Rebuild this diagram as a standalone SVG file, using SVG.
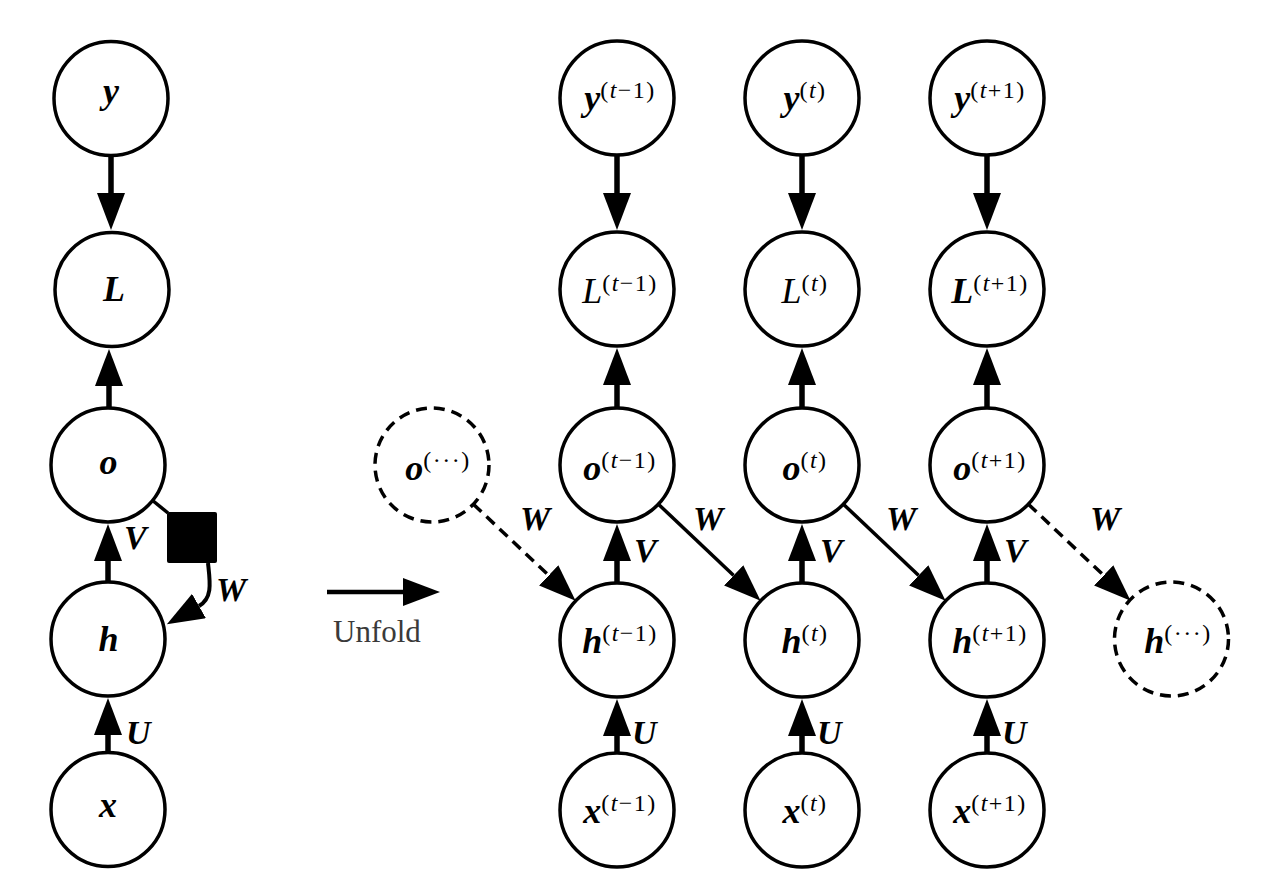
<svg xmlns="http://www.w3.org/2000/svg" width="1268" height="884" viewBox="0 0 1268 884">
<style>
.n circle{fill:#fff;stroke:#000;stroke-width:3.5}
.d circle{stroke-dasharray:11 7}
.m{font-family:"Liberation Serif",serif;font-size:36px;font-style:italic;font-weight:bold;fill:#000}
.r{font-weight:normal}
.s{font-size:24px;font-style:normal;font-weight:normal;letter-spacing:1.5px}
.t{font-style:italic}
.lab{font-family:"Liberation Serif",serif;font-size:34px;font-style:italic;font-weight:bold;fill:#000}
.a{stroke:#000;stroke-width:5.5;fill:none}
.th{stroke:#000;stroke-width:3.5;fill:none}
.ds{stroke-dasharray:11 7}
.unfold{font-family:"Liberation Serif",serif;font-size:31px;fill:#3a3a3a}
</style>
<defs>
<marker id="ah" viewBox="0 0 37 28" refX="0" refY="14" markerWidth="37" markerHeight="28" markerUnits="userSpaceOnUse" orient="auto"><path d="M0,0 L37,14 L0,28 z" fill="#000"/></marker>
</defs>
<rect width="1268" height="884" fill="#fff"/>

<g id="connectors">
<!-- left column -->
<path class="a" d="M111,156 L111,193" marker-end="url(#ah)"/>
<path class="a" d="M109,408 L109,386" marker-end="url(#ah)"/>
<path class="a" d="M108,582 L108,561" marker-end="url(#ah)"/>
<path class="a" d="M108,752 L108,735" marker-end="url(#ah)"/>
<path class="th" d="M152.6,500.5 L168,513"/>
<rect x="167" y="512" width="50" height="51" rx="2" fill="#000"/>
<path class="th" style="stroke-width:4" d="M208,563 C210,582 213,598 199,606" marker-end="url(#ah)"/>
<!-- unfold arrow -->
<path class="a" style="stroke-width:4.5" d="M327,592 L403,592" marker-end="url(#ah)"/>
<!-- right columns vertical -->
<path class="a" d="M617,155 L617,193" marker-end="url(#ah)"/>
<path class="a" d="M802,155 L802,193" marker-end="url(#ah)"/>
<path class="a" d="M987,155 L987,193" marker-end="url(#ah)"/>
<path class="a" d="M617,408 L617,385" marker-end="url(#ah)"/>
<path class="a" d="M802,408 L802,385" marker-end="url(#ah)"/>
<path class="a" d="M987,408 L987,385" marker-end="url(#ah)"/>
<path class="a" d="M617,583 L617,561" marker-end="url(#ah)"/>
<path class="a" d="M802,583 L802,561" marker-end="url(#ah)"/>
<path class="a" d="M987,583 L987,561" marker-end="url(#ah)"/>
<path class="a" d="M617,753 L617,736" marker-end="url(#ah)"/>
<path class="a" d="M802,753 L802,736" marker-end="url(#ah)"/>
<path class="a" d="M987,753 L987,736" marker-end="url(#ah)"/>
<!-- recurrent W -->
<path class="th ds" d="M473.4,504.2 L548.7,575.4" marker-end="url(#ah)"/>
<path class="th" d="M658.4,504.2 L733.7,575.4" marker-end="url(#ah)"/>
<path class="th" d="M843.4,504.2 L918.7,575.4" marker-end="url(#ah)"/>
<path class="th ds" d="M1028.4,504.2 L1103.7,575.4" marker-end="url(#ah)"/>
<!-- edge labels -->
<text class="lab" x="124" y="549">V</text>
<text class="lab" x="216" y="601">W</text>
<text class="lab" x="126" y="744">U</text>
<text class="lab" x="634" y="562">V</text>
<text class="lab" x="820" y="562">V</text>
<text class="lab" x="1004" y="562">V</text>
<text class="lab" x="632" y="744">U</text>
<text class="lab" x="817" y="744">U</text>
<text class="lab" x="1002" y="744">U</text>
<text class="lab" x="520" y="530">W</text>
<text class="lab" x="693" y="530">W</text>
<text class="lab" x="886" y="530">W</text>
<text class="lab" x="1090" y="530">W</text>
<text class="unfold" x="333" y="642">Unfold</text>
</g>

<!-- left folded graph -->
<g id="node-y" class="n"><circle cx="111" cy="98.5" r="57"/><text class="m" x="111" y="103" text-anchor="middle">y</text></g>
<g id="node-L" class="n"><circle cx="112" cy="289.5" r="57"/><text class="m" x="114" y="301" text-anchor="middle">L</text></g>
<g id="node-o" class="n"><circle cx="108" cy="465" r="57"/><text class="m" x="108.5" y="474" text-anchor="middle">o</text></g>
<g id="node-h" class="n"><circle cx="108" cy="639" r="57"/><text class="m" x="108.5" y="651" text-anchor="middle">h</text></g>
<g id="node-x" class="n"><circle cx="108" cy="809.5" r="57"/><text class="m" x="108" y="817" text-anchor="middle">x</text></g>

<!-- unfolded: t-1 -->
<g id="node-y-tm1" class="n"><circle cx="617" cy="98" r="57"/><text class="m" x="620" y="110" text-anchor="middle">y<tspan class="s" dy="-12">(<tspan class="t">t</tspan>−1)</tspan></text></g>
<g id="node-L-tm1" class="n"><circle cx="617" cy="289" r="57"/><text class="m r" x="620" y="303" text-anchor="middle">L<tspan class="s" dy="-12">(<tspan class="t">t</tspan>−1)</tspan></text></g>
<g id="node-o-tm1" class="n"><circle cx="617" cy="465" r="57"/><text class="m" x="620" y="480" text-anchor="middle">o<tspan class="s" dy="-12">(<tspan class="t">t</tspan>−1)</tspan></text></g>
<g id="node-h-tm1" class="n"><circle cx="617" cy="640" r="57"/><text class="m" x="620" y="653" text-anchor="middle">h<tspan class="s" dy="-12">(<tspan class="t">t</tspan>−1)</tspan></text></g>
<g id="node-x-tm1" class="n"><circle cx="617" cy="810" r="57"/><text class="m" x="620" y="823" text-anchor="middle">x<tspan class="s" dy="-12">(<tspan class="t">t</tspan>−1)</tspan></text></g>

<!-- t -->
<g id="node-y-t" class="n"><circle cx="802" cy="98" r="57"/><text class="m" x="805" y="110" text-anchor="middle">y<tspan class="s" dy="-12">(<tspan class="t">t</tspan>)</tspan></text></g>
<g id="node-L-t" class="n"><circle cx="802" cy="289" r="57"/><text class="m r" x="805" y="303" text-anchor="middle">L<tspan class="s" dy="-12">(<tspan class="t">t</tspan>)</tspan></text></g>
<g id="node-o-t" class="n"><circle cx="802" cy="465" r="57"/><text class="m" x="805" y="480" text-anchor="middle">o<tspan class="s" dy="-12">(<tspan class="t">t</tspan>)</tspan></text></g>
<g id="node-h-t" class="n"><circle cx="802" cy="640" r="57"/><text class="m" x="805" y="653" text-anchor="middle">h<tspan class="s" dy="-12">(<tspan class="t">t</tspan>)</tspan></text></g>
<g id="node-x-t" class="n"><circle cx="802" cy="810" r="57"/><text class="m" x="805" y="823" text-anchor="middle">x<tspan class="s" dy="-12">(<tspan class="t">t</tspan>)</tspan></text></g>

<!-- t+1 -->
<g id="node-y-tp1" class="n"><circle cx="987" cy="98" r="57"/><text class="m" x="990" y="110" text-anchor="middle">y<tspan class="s" dy="-12">(<tspan class="t">t</tspan>+1)</tspan></text></g>
<g id="node-L-tp1" class="n"><circle cx="987" cy="289" r="57"/><text class="m" x="990" y="303" text-anchor="middle">L<tspan class="s" dy="-12">(<tspan class="t">t</tspan>+1)</tspan></text></g>
<g id="node-o-tp1" class="n"><circle cx="987" cy="465" r="57"/><text class="m" x="990" y="480" text-anchor="middle">o<tspan class="s" dy="-12">(<tspan class="t">t</tspan>+1)</tspan></text></g>
<g id="node-h-tp1" class="n"><circle cx="987" cy="640" r="57"/><text class="m" x="990" y="653" text-anchor="middle">h<tspan class="s" dy="-12">(<tspan class="t">t</tspan>+1)</tspan></text></g>
<g id="node-x-tp1" class="n"><circle cx="987" cy="810" r="57"/><text class="m" x="990" y="823" text-anchor="middle">x<tspan class="s" dy="-12">(<tspan class="t">t</tspan>+1)</tspan></text></g>

<!-- dashed ends -->
<g id="node-o-dots" class="n d"><circle cx="432" cy="465" r="57"/><text class="m" x="438" y="480" text-anchor="middle">o<tspan class="s" dy="-12">(···)</tspan></text></g>
<g id="node-h-dots" class="n d"><circle cx="1171.5" cy="639" r="57"/><text class="m" x="1178" y="653" text-anchor="middle">h<tspan class="s" dy="-12">(···)</tspan></text></g>
</svg>
